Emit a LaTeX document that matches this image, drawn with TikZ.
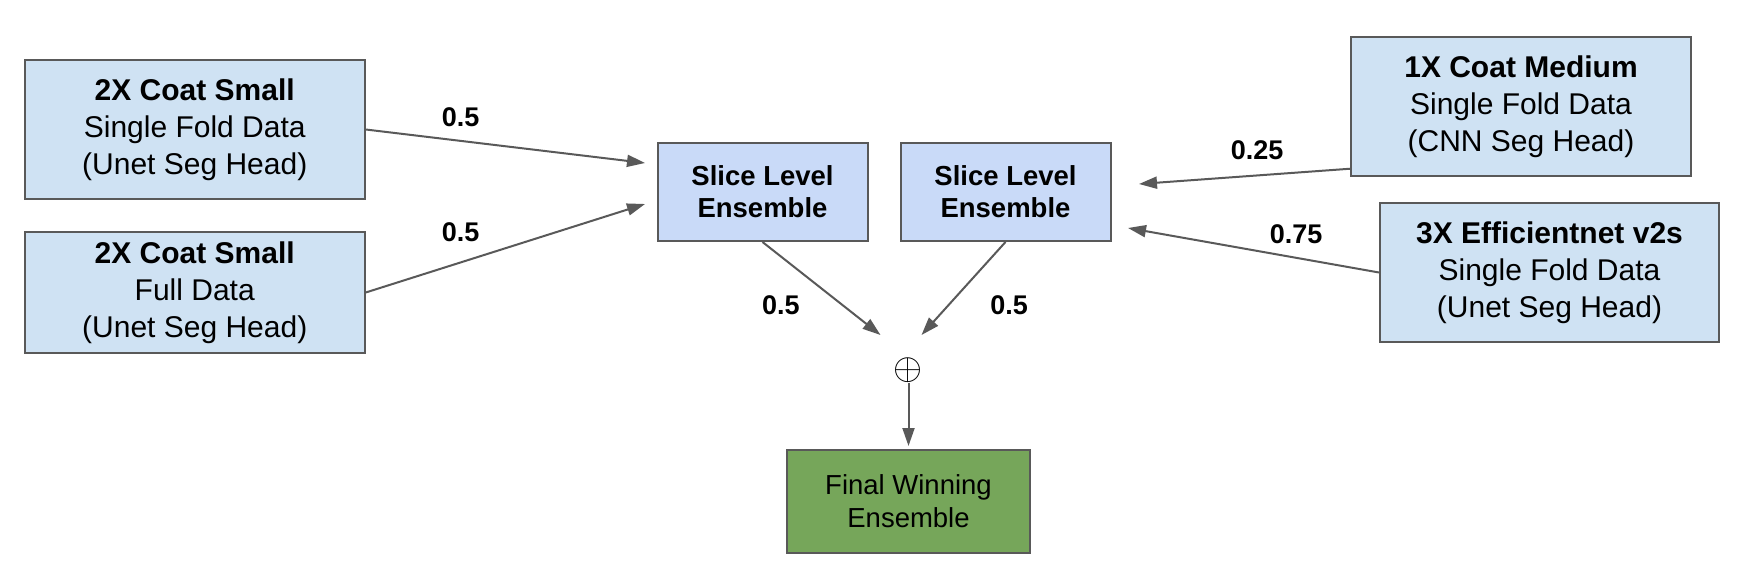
\documentclass[tikz,border=0pt]{standalone}
\usepackage{graphicx}
\usepackage{fontspec}
\setmainfont{Liberation Sans}
\usetikzlibrary{arrows.meta, positioning}
\definecolor{modelblue}{RGB}{207, 226, 243}
\definecolor{sliceblue}{RGB}{201, 218, 248}
\definecolor{wingreen}{RGB}{118, 166, 90}
\definecolor{edgegray}{RGB}{89, 89, 89}
\tikzset{
    model/.style = {rectangle, draw=edgegray, line width=2pt, fill=modelblue, align=center, inner sep=0pt, minimum width=340pt, minimum height=139pt, font=\fontsize{30}{37}\selectfont},
    ensemble/.style = {model, fill=sliceblue, minimum width=210pt, minimum height=98pt, font=\fontsize{27.5}{32}\selectfont\bfseries},
    final/.style = {model, fill=wingreen, minimum width=243pt, minimum height=103pt, font=\fontsize{27.5}{33}\selectfont},
    link/.style = {line width=2pt, edgegray, -{Triangle[length=18pt, width=12pt]}},
    weight/.style = {text=black, font=\fontsize{27}{27}\selectfont\bfseries, inner sep=0pt}
}

\begin{document}
\begin{tikzpicture}[x=1pt, y=1pt]
  \useasboundingbox (0,0) rectangle (1742,574);

  % models on the left
  \node[model] (m1) at (194.75,444.5) {\textbf{2X Coat Small}\\Single Fold Data\\(Unet Seg Head)};
  \node[model, minimum height=121pt] (m2) at (194.75,281.5) {\textbf{2X Coat Small}\\Full Data\\(Unet Seg Head)};
  % models on the right
  \node[model] (m3) at (1521,467.5) {\textbf{1X Coat Medium}\\Single Fold Data\\(CNN Seg Head)};
  \node[model, minimum width=339pt] (m4) at (1549.5,301.5) {\textbf{3X Efficientnet v2s}\\Single Fold Data\\(Unet Seg Head)};

  % slice level ensembles
  \node[ensemble] (s1) at (762.5,382) {Slice Level\\Ensemble};
  \node[ensemble, right=31pt of s1] (s2) {Slice Level\\Ensemble};

  \node[inner sep=0pt, font=\Huge] (sum) at (908.5,204) {\scalebox{1.5}{$\oplus$}};
  \node[final] (fin) at (908.5,72.5) {Final Winning\\Ensemble};

  % arrow tips
  \coordinate (inA) at (645,411);
  \coordinate (inB) at (645,370);
  \coordinate (inC) at (1139,390);
  \coordinate (inD) at (1128,346);
  \coordinate (in1) at (880.5,239);
  \coordinate (in2) at (921.5,239);

  \draw[link] (m1.east) -- node[weight, pos=0.34, above=13pt] {0.5} (inA);
  \draw[link] (m2.east) -- node[weight, pos=0.34, above=20pt] {0.5} (inB);
  \draw[link] (m3.200) -- node[weight, pos=0.44, above=15pt] {0.25} (inC);
  \draw[link] (m4.west) -- node[weight, pos=0.33, above=13pt] {0.75} (inD);
  \draw[link] (s1.south) -- node[weight, pos=0.68, left=42pt] {0.5} (in1);
  \draw[link] (s2.south) -- node[weight, pos=0.68, right=41pt] {0.5} (in2);
  \draw[link, shorten >=3pt] (sum.south) -- (fin.north);
\end{tikzpicture}
\end{document}
